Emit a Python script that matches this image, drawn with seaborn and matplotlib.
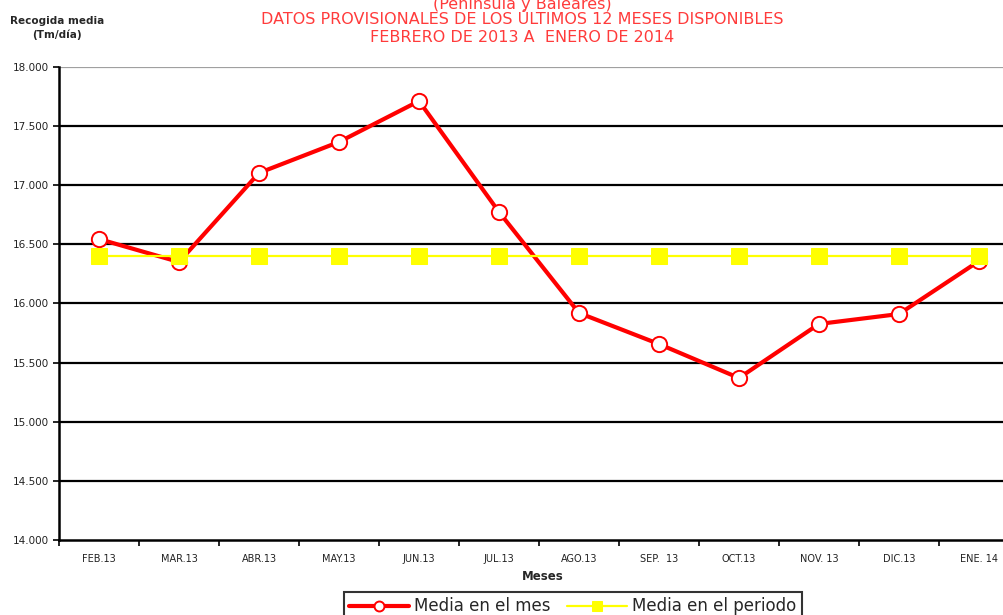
import matplotlib
matplotlib.use("Agg")
import matplotlib.pyplot as plt
import seaborn as sns
import pandas as pd
from matplotlib.ticker import FuncFormatter, FixedLocator

meses = ["FEB.13", "MAR.13", "ABR.13", "MAY.13", "JUN.13", "JUL.13",
         "AGO.13", "SEP.  13", "OCT.13", "NOV. 13", "DIC.13", "ENE. 14"]
media_mes = [16545, 16351, 17104, 17366, 17712, 16774,
             15920, 15657, 15370, 15827, 15911, 16359]
media_periodo = [16403] * 12

df = pd.DataFrame({"mes": meses, "idx": range(len(meses)),
                   "mes_val": media_mes, "periodo_val": media_periodo})

sns.set_theme(style="white")
plt.rcParams["font.family"] = ["DejaVu Sans"]

fig = plt.figure(figsize=(10.04, 6.15), dpi=100)
ax = fig.add_axes([59 / 1004, 1 - 540 / 615, 960 / 1004, 473 / 615])

for y in range(14500, 18000, 500):
    ax.axhline(y, color="black", lw=1.6, zorder=1)
ax.axhline(18000, color="#a0a0a0", lw=1.6, zorder=1)

sns.lineplot(data=df, x="idx", y="mes_val", ax=ax, color="#ff0000", lw=3.0,
             marker="o", markersize=11, markerfacecolor="white",
             markeredgecolor="#ff0000", markeredgewidth=1.4, zorder=3,
             label="Media en el mes")
sns.lineplot(data=df, x="idx", y="periodo_val", ax=ax, color="#ffff00", lw=1.6,
             marker="s", markersize=12, markerfacecolor="#ffff00",
             markeredgecolor="#ffff00", zorder=4, label="Media en el periodo")

ax.set_xlim(-0.5, len(meses) - 0.5)
ax.set_ylim(14000, 18000)
ax.set_yticks(range(14000, 18001, 500))
ax.yaxis.set_major_formatter(FuncFormatter(lambda v, p: f"{int(v):,}".replace(",", ".")))
ax.set_xticks(range(len(meses)))
ax.set_xticklabels(meses)
ax.xaxis.set_minor_locator(FixedLocator([i - 0.5 for i in range(len(meses) + 1)]))
ax.tick_params(axis="x", which="major", length=0, labelsize=7, pad=10, colors="#222222")
ax.tick_params(axis="x", which="minor", length=4, width=1.2, direction="out",
               color="black", bottom=True)
ax.tick_params(axis="y", which="major", length=4, width=1.2, direction="out",
               color="black", left=True, labelsize=7.5, colors="#222222")
for s in ["top", "right"]:
    ax.spines[s].set_visible(False)
for s in ["left", "bottom"]:
    ax.spines[s].set_color("black")
    ax.spines[s].set_linewidth(1.8)
ax.set_xlabel("")
ax.set_ylabel("")

ax.get_legend().remove()
handles, labels = ax.get_legend_handles_labels()
leg = fig.legend(handles, labels, loc="upper center", ncol=2,
                 bbox_to_anchor=(573 / 1004, 1 - 584 / 615), frameon=True,
                 fontsize=12, fancybox=False, edgecolor="black", handlelength=3.6,
                 handletextpad=0.3, columnspacing=1.0, borderpad=0.3,
                 markerscale=0.65)
leg.get_frame().set_linewidth(1.5)

fig.text(543 / 1004, 1 - 576 / 615, "Meses", ha="center", va="center",
         fontsize=8.5, fontweight="bold")
fig.text(57 / 1004, 1 - 28 / 615, "Recogida media\n(Tm/día)", ha="center",
         va="center", fontsize=7.5, fontweight="bold", linespacing=1.3)

title_color = "#ff3b3b"
fig.text(522 / 1004, 1 - 4 / 615, "(Península y Baleares)", ha="center",
         va="center", fontsize=11.5, color=title_color)
fig.text(522 / 1004, 1 - 20 / 615, "DATOS PROVISIONALES DE LOS ÚLTIMOS 12 MESES DISPONIBLES",
         ha="center", va="center", fontsize=11.5, color=title_color)
fig.text(522 / 1004, 1 - 37 / 615, "FEBRERO DE 2013 A  ENERO DE 2014",
         ha="center", va="center", fontsize=11.5, color=title_color)

fig.savefig("out.png", dpi=100)
